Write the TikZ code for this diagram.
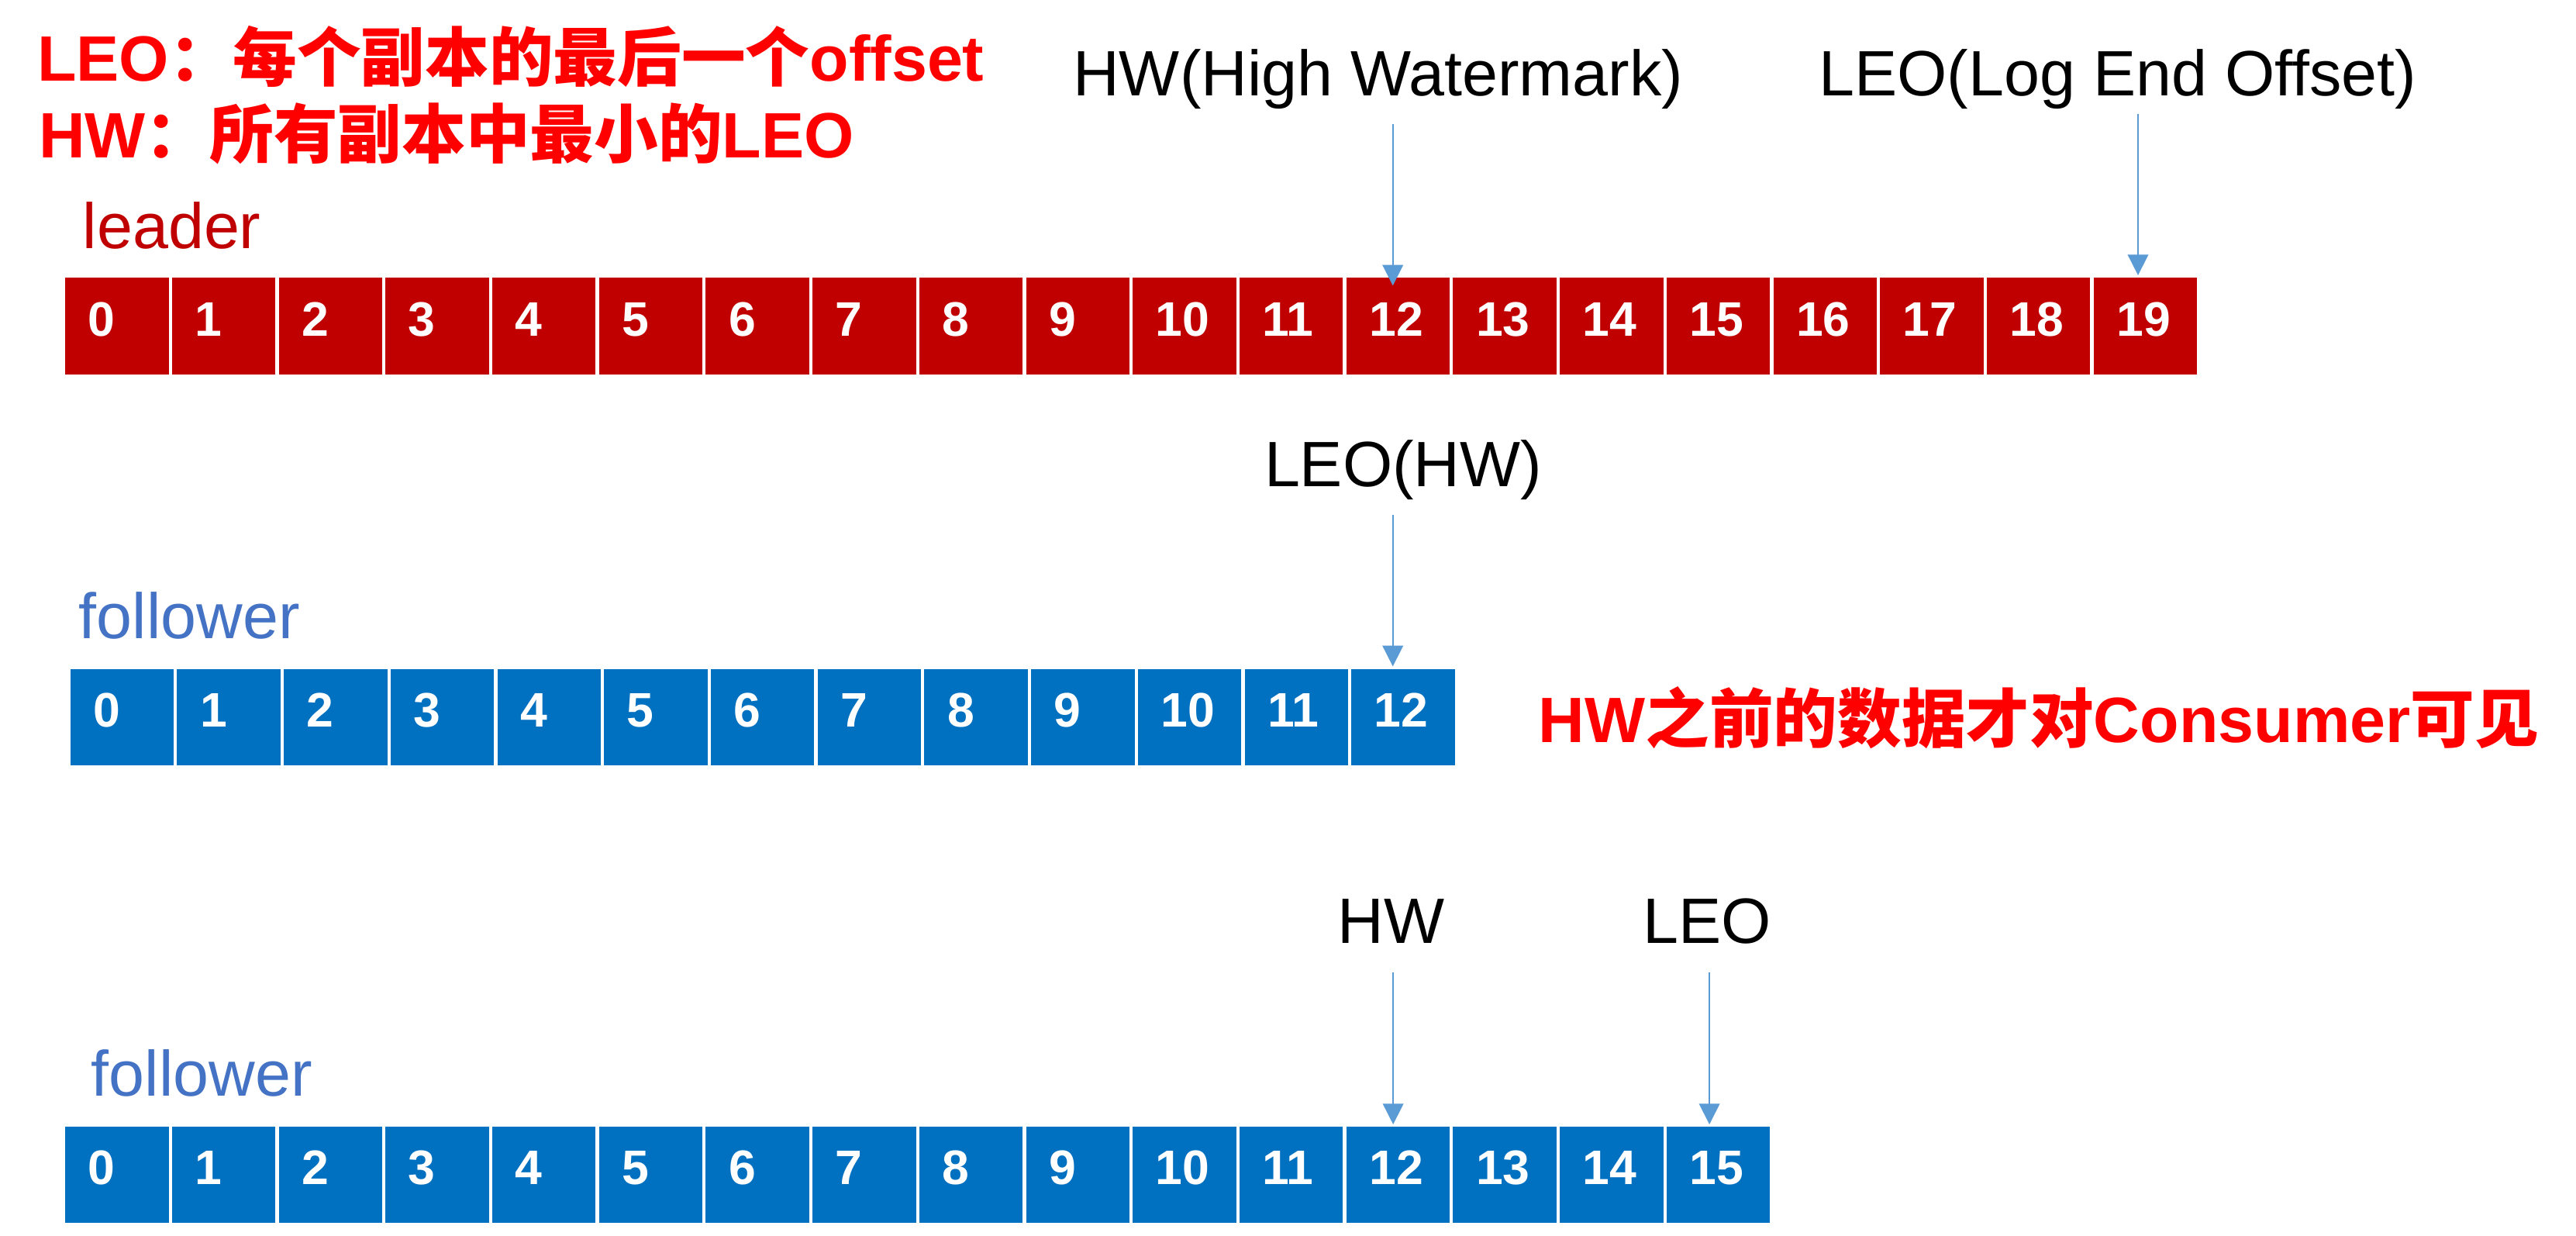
\documentclass[tikz,border=0pt]{standalone}
\usepackage{fontspec}
\setmainfont{Liberation Sans}
\newfontfamily\cjk{Noto Sans CJK SC}
\usetikzlibrary{arrows.meta}
\definecolor{leadred}{HTML}{C00000}
\definecolor{folblue}{HTML}{0070C0}
\definecolor{lblblue}{HTML}{4472C4}
\definecolor{arrblue}{HTML}{5B9BD5}
\definecolor{hot}{HTML}{FF0000}
\begin{document}
\begin{tikzpicture}[x=1pt,y=-1pt,
  cellbox/.style={draw=white, line width=2pt, minimum width=64.98pt, minimum height=60.7pt, inner sep=0pt, outer sep=0pt, anchor=north west},
  leadcell/.style={cellbox, fill=leadred},
  folcell/.style={cellbox, fill=folblue},
  numtxt/.style={anchor=base west, inner sep=0pt, text=white, font=\fontsize{29.5}{30}\selectfont\bfseries},
  plain/.style={anchor=base west, inner sep=0pt, font=\fontsize{39}{40}\selectfont},
  redbold/.style={anchor=base west, inner sep=0pt, text=hot, font=\fontsize{39}{40}\selectfont\bfseries},
  ptr/.style={draw=arrblue, line width=0.8pt, -{Triangle[length=12.6pt,width=12.6pt]}},
]
\useasboundingbox[fill=white] (0,0) rectangle (1568,752);

% texts
\node[redbold] (t1) at (22.5,49.5) {LEO{\cjk ：每个副本的最后一个}offset};
\node[redbold] (t2) at (23.5,96) {HW{\cjk ：所有副本中最小的}LEO};
\node[plain, text=leadred] (lead) at (50.2,151) {leader};
\node[plain] (hwlbl) at (653,58.2) {HW(High Watermark)};
\node[plain] (leolbl) at (1107,58.2) {LEO(Log End Offset)};
\node[plain] (leohw) at (769.4,296) {LEO(HW)};
\node[plain, text=lblblue] (fol1) at (47.9,388.5) {follower};
\node[redbold] (vis) at (936.3,451.9) {HW{\cjk 之前的数据才对}Consumer{\cjk 可见}};
\node[plain, text=lblblue] (fol2) at (55.4,667) {follower};
\node[plain] (hw2) at (814,574) {HW};
\node[plain] (leo2) at (1000,574) {LEO};

% leader row
\foreach \i in {0,...,19}{
  \node[leadcell] (L\i) at ({38.7+\i*64.98},168.1) {};
  \node[numtxt] (LN\i) at ([xshift=14.8pt,yshift=-36.4pt]L\i.north west) {\i};
}
% follower row 1
\foreach \i in {0,...,12}{
  \node[folcell] (F\i) at ({41.8+\i*64.98},406) {};
  \node[numtxt] (FN\i) at ([xshift=14.8pt,yshift=-36.4pt]F\i.north west) {\i};
}
% follower row 2
\foreach \i in {0,...,15}{
  \node[folcell] (G\i) at ({38.7+\i*64.98},684.5) {};
  \node[numtxt] (GN\i) at ([xshift=14.8pt,yshift=-36.4pt]G\i.north west) {\i};
}

% arrows
\coordinate (a1s) at (847.8,75.5);   \coordinate (a1e) at (847.8,173.8);
\coordinate (a2s) at (1301.4,69.2);  \coordinate (a2e) at (1301.4,167.5);
\coordinate (a3s) at (847.8,313.3);  \coordinate (a3e) at (847.8,405.5);
\coordinate (a4s) at (848,591.7);    \coordinate (a4e) at (848,684.2);
\coordinate (a5s) at (1040.5,591.7); \coordinate (a5e) at (1040.5,684.2);
\draw[ptr] (a1s) -- (a1e);
\draw[ptr] (a2s) -- (a2e);
\draw[ptr] (a3s) -- (a3e);
\draw[ptr] (a4s) -- (a4e);
\draw[ptr] (a5s) -- (a5e);
\end{tikzpicture}
\end{document}
